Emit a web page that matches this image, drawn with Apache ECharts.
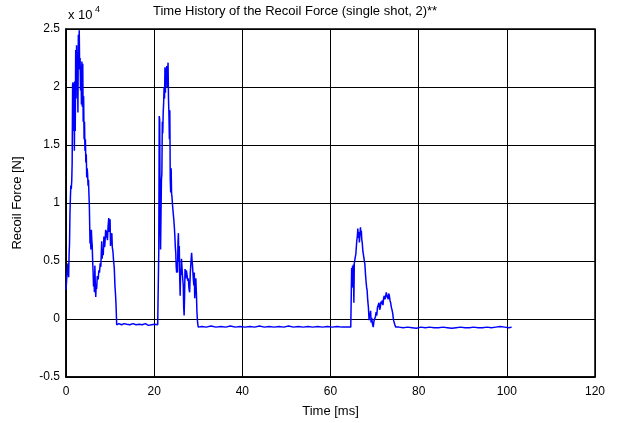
<!DOCTYPE html>
<html>
<head>
<meta charset="utf-8">
<script src="https://cdn.jsdelivr.net/npm/echarts@6/dist/echarts.min.js"></script>
<style>
  html, body { margin: 0; padding: 0; background: #fff; }
  #chart { width: 621px; height: 423px; }
</style>
</head>
<body>
<div id="chart"></div>
<script>
// recoil force trace, time in ms, force in units of 1e4 N
const timeMs = [
  // first burst
  0.0, 0.25, 0.45, 0.6, 0.7, 0.8, 0.9, 1.0, 1.1, 1.2, 1.3, 1.4, 1.5, 1.6, 1.7, 1.8, 1.9, 2.0,
  2.1, 2.2, 2.3, 2.4, 2.5, 2.6, 2.7, 2.8, 2.9, 3.0, 3.1, 3.2, 3.3, 3.4, 3.5, 3.6, 3.7, 3.8,
  3.9, 4.0, 4.1, 4.2, 4.3, 4.4, 4.5, 4.6, 4.7, 4.8, 4.9, 5.0, 5.1, 5.2, 5.3, 5.4, 5.45, 5.55,
  5.65, 5.75, 5.85, 5.95, 6.05, 6.15, 6.25, 6.35, 6.45, 6.55, 6.65, 6.75, 6.85, 6.95, 7.1, 7.3,
  7.45, 7.6, 7.75, 7.9, 8.1, 8.2, 8.3, 8.45, 8.6, 8.75, 8.85, 9.0, 9.1, 9.25, 9.4, 9.55, 9.7,
  9.85, 10.0, 10.1, 10.25, 10.4, 10.5, 10.65, 10.8, 10.95, 11.1, 11.25, 11.35, 11.5,
  // quiet
  12.0, 12.6, 13.2, 13.8, 14.5, 15.2, 15.9, 16.6, 17.3, 18.0, 18.7, 19.4, 20.1, 20.8,
  // second burst
  20.95, 21.05, 21.15, 21.25, 21.35, 21.45, 21.55, 21.65, 21.75, 21.85, 21.95, 22.05, 22.15,
  22.25, 22.35, 22.45, 22.55, 22.65, 22.75, 22.85, 22.95, 23.05, 23.15, 23.25, 23.35, 23.45,
  23.55, 23.65, 23.75, 23.85, 23.95, 24.05, 24.15, 24.3, 24.45, 24.6, 24.7, 24.8, 24.9, 25.0,
  25.1, 25.2, 25.3, 25.4, 25.5, 25.6, 25.7, 25.8, 25.9, 26.0, 26.1, 26.2, 26.3, 26.45, 26.6,
  26.7, 26.8, 26.9, 27.0, 27.15, 27.3, 27.45, 27.6, 27.75, 27.9, 28.05, 28.2, 28.3, 28.4, 28.5,
  28.6, 28.7, 28.85, 29.0, 29.1, 29.2, 29.3, 29.45, 29.6, 29.7, 29.85, 30.0,
  // quiet
  30.8, 31.8, 32.9, 34.0, 35.1, 36.2, 37.3, 38.4, 39.5, 40.6, 41.7, 42.8, 43.9, 45.0, 46.1,
  47.2, 48.3, 49.4, 50.5, 51.6, 52.7, 53.8, 54.9, 56.0, 57.1, 58.2, 59.3, 60.4, 61.5, 62.6,
  63.7, 64.6,
  // third burst
  64.7, 64.8, 64.9, 65.0, 65.1, 65.2, 65.3, 65.4, 65.6, 65.75, 65.95, 66.1, 66.2, 66.3, 66.45,
  66.55, 66.7, 66.8, 66.9, 67.0, 67.1, 67.2, 67.35, 67.45, 67.6, 67.8, 67.95, 68.05, 68.2, 68.3,
  68.45, 68.6, 68.75, 68.85, 68.95, 69.1, 69.2, 69.35, 69.5, 69.7, 69.85, 70.0, 70.2, 70.35,
  70.5, 70.65, 70.85, 71.0, 71.15, 71.3, 71.45, 71.6, 71.75, 71.9, 72.05, 72.2, 72.35, 72.5,
  72.65, 72.8, 72.95, 73.1, 73.2, 73.35, 73.5, 73.65, 73.8, 73.95, 74.1, 74.3, 74.45, 74.6, 74.8,
  // tail
  75.5, 76.5, 77.5, 78.5, 79.5, 80.5, 81.5, 82.5, 83.5, 84.5, 85.5, 86.5, 87.5, 88.5, 89.5,
  90.5, 91.5, 92.5, 93.5, 94.5, 95.5, 96.5, 97.5, 98.5, 99.5, 100.5, 101.1
];

const forceE4 = [
  // first burst
  0.25, 0.40, 0.48, 0.36, 0.55, 0.65, 0.91, 1.05, 1.15, 1.12, 1.19, 1.35, 2.02, 2.04, 1.62, 2.03, 1.45, 2.05,
  1.62, 2.32, 1.90, 2.36, 2.05, 2.30, 1.78, 2.45, 2.20, 2.49, 2.15, 2.25, 1.97, 2.18, 1.85, 2.22, 1.83, 2.20,
  1.70, 1.92, 1.55, 1.70, 1.45, 1.55, 1.35, 1.42, 1.22, 1.30, 1.25, 1.15, 1.20, 1.08, 0.97, 0.75, 0.65, 0.70,
  0.60, 0.77, 0.68, 0.63, 0.50, 0.40, 0.28, 0.35, 0.23, 0.46, 0.30, 0.19, 0.30, 0.26, 0.37, 0.34,
  0.42, 0.40, 0.48, 0.45, 0.67, 0.52, 0.60, 0.55, 0.71, 0.62, 0.66, 0.77, 0.70, 0.76, 0.68, 0.80, 0.87,
  0.75, 0.86, 0.63, 0.72, 0.74, 0.62, 0.58, 0.50, 0.44, 0.29, 0.20, 0.12, -0.05,
  // quiet
  -0.04, -0.05, -0.04, -0.045, -0.05, -0.04, -0.05, -0.045, -0.05, -0.04, -0.055, -0.05, -0.045, -0.05,
  // second burst
  -0.05, 0.60, 1.75, 1.72, 0.90, 0.60, 0.90, 1.20, 1.25, 1.70, 1.60, 1.78, 1.86,
  2.00, 1.90, 2.17, 1.95, 2.16, 2.05, 2.18, 2.00, 2.12, 2.21, 1.90, 1.77, 1.55,
  1.80, 1.20, 1.09, 1.30, 1.08, 1.05, 0.99, 0.92, 0.86, 0.78, 0.71, 0.62, 0.57, 0.45,
  0.40, 0.50, 0.40, 0.66, 0.74, 0.50, 0.63, 0.35, 0.20, 0.43, 0.38, 0.52, 0.45, 0.36, 0.29,
  0.10, 0.03, 0.20, 0.43, 0.35, 0.42, 0.38, 0.33, 0.35, 0.26, 0.23, 0.40, 0.46, 0.52, 0.57,
  0.50, 0.46, 0.36, 0.29, 0.40, 0.18, 0.30, 0.35, 0.20, 0.06, -0.03, -0.07,
  // quiet
  -0.065, -0.07, -0.06, -0.07, -0.065, -0.07, -0.06, -0.07, -0.065, -0.07, -0.065, -0.07, -0.06, -0.07, -0.065,
  -0.07, -0.065, -0.07, -0.06, -0.07, -0.065, -0.07, -0.065, -0.07, -0.065, -0.07, -0.065, -0.07, -0.065, -0.07,
  -0.07, -0.07,
  // third burst
  -0.07, 0.44, 0.27, 0.46, 0.28, 0.47, 0.14, 0.48, 0.53, 0.56, 0.67, 0.72, 0.78, 0.70, 0.75,
  0.66, 0.67, 0.79, 0.72, 0.76, 0.68, 0.66, 0.58, 0.56, 0.52, 0.47, 0.38, 0.33, 0.27, 0.25,
  0.16, 0.10, -0.01, 0.05, 0.02, 0.07, -0.03, 0.01, -0.04, -0.07, -0.02, 0.00, 0.02, 0.06,
  0.03, 0.10, 0.10, 0.14, 0.08, 0.10, 0.15, 0.13, 0.16, 0.12, 0.18, 0.20, 0.17, 0.19,
  0.23, 0.20, 0.21, 0.17, 0.22, 0.20, 0.16, 0.14, 0.10, 0.08, 0.05, -0.01, -0.03, -0.05, -0.07,
  // tail
  -0.07, -0.075, -0.07, -0.075, -0.08, -0.07, -0.075, -0.07, -0.075, -0.075, -0.07, -0.075, -0.08, -0.075, -0.07,
  -0.075, -0.075, -0.07, -0.075, -0.075, -0.07, -0.075, -0.07, -0.065, -0.07, -0.075, -0.07
];

const xTicks = [0, 20, 40, 60, 80, 100, 120];
const yTicks = [-0.5, 0, 0.5, 1, 1.5, 2, 2.5];

const font = 'Liberation Sans, Arial, sans-serif';
const chart = echarts.init(document.getElementById('chart'));

const option = {
  animation: false,
  backgroundColor: '#fff',
  grid: {
    left: 66, right: 26, top: 29, bottom: 40,
    show: true,
    borderColor: '#000',
    borderWidth: 1.5
  },
  xAxis: {
    type: 'value',
    min: xTicks[0],
    max: xTicks[xTicks.length - 1],
    interval: 20,
    name: 'Time [ms]',
    nameLocation: 'middle',
    nameGap: 28,
    nameTextStyle: { color: '#000', fontSize: 13, fontFamily: font },
    axisLine: { show: true, onZero: false, lineStyle: { color: '#000', width: 1.5 } },
    axisTick: { show: false },
    axisLabel: { color: '#000', fontSize: 12, fontFamily: font, margin: 9 },
    splitLine: { show: true, lineStyle: { color: '#000', width: 1 } }
  },
  yAxis: {
    type: 'value',
    min: yTicks[0],
    max: yTicks[yTicks.length - 1],
    interval: 0.5,
    name: 'Recoil Force [N]',
    nameLocation: 'middle',
    nameGap: 42,
    nameTextStyle: { color: '#000', fontSize: 13, fontFamily: font },
    axisLine: { show: true, onZero: false, lineStyle: { color: '#000', width: 1.5 } },
    axisTick: { show: false },
    axisLabel: { color: '#000', fontSize: 12, fontFamily: font, margin: 6 },
    splitLine: { show: true, lineStyle: { color: '#000', width: 1 } }
  },
  graphic: [
    {
      type: 'text', left: 153, top: 5,
      style: { text: 'Time History of the Recoil Force (single shot, 2)**', fill: '#000', font: '13px ' + font }
    },
    {
      type: 'text', left: 68, top: 9,
      style: { text: 'x 10', fill: '#000', font: '13px ' + font }
    },
    {
      type: 'text', left: 95, top: 5,
      style: { text: '4', fill: '#000', font: '9px ' + font }
    }
  ],
  series: [
    {
      type: 'line',
      data: timeMs.map((t, i) => [t, forceE4[i]]),
      showSymbol: false,
      lineStyle: { color: '#0000ff', width: 1.5 },
      z: 3
    }
  ]
};

chart.setOption(option);
</script>
</body>
</html>
